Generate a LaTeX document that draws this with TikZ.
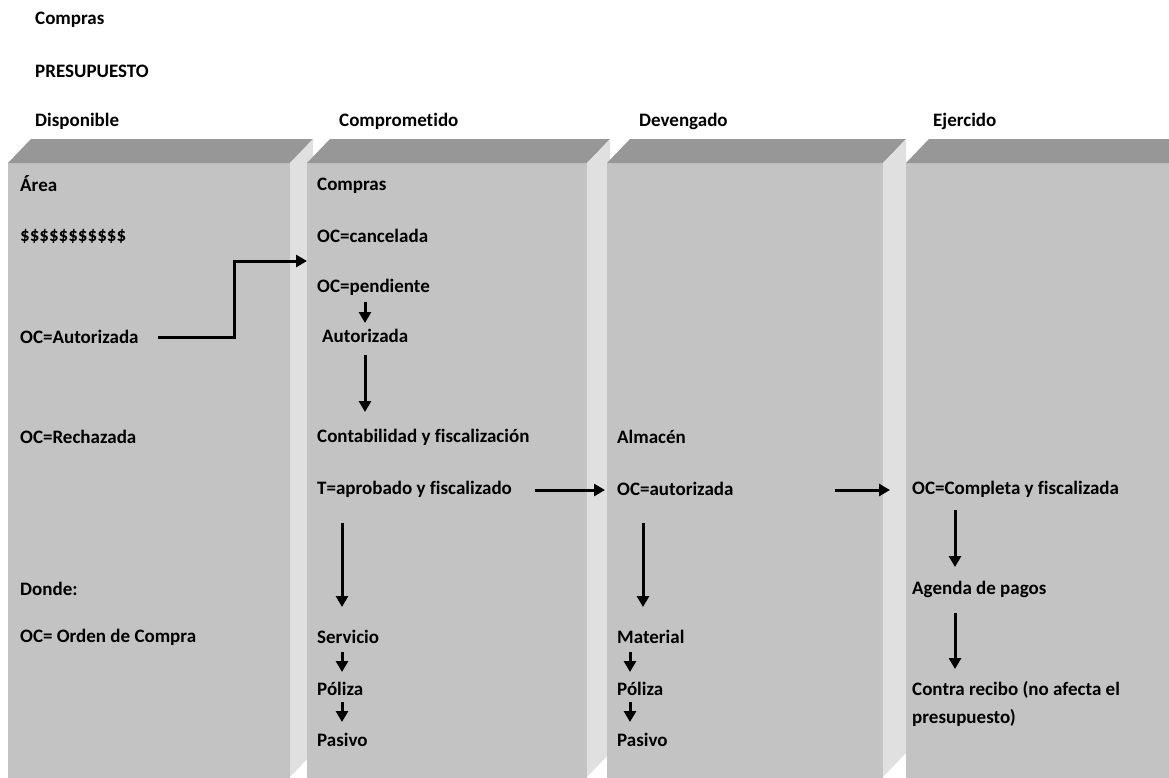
\documentclass[tikz,border=0pt]{standalone}
\usepackage{fontspec}
\setmainfont{Carlito}[RawFeature={-liga}]
\usetikzlibrary{arrows.meta}
\definecolor{topc}{HTML}{979797}
\definecolor{frontc}{HTML}{C3C3C3}
\definecolor{sidec}{HTML}{E0E0E0}
\tikzset{
  lbl/.style={anchor=west, inner sep=0pt, font=\fontsize{19}{28}\selectfont\bfseries, text=black},
  arr/.style={line width=3pt, -{Triangle[length=11pt,width=12pt]}},
}
\newcommand{\colbox}[2]{%
  \fill[frontc] (#1,163) rectangle (#2,800);
  \fill[topc] (#1,163) -- (#1+23,139) -- (#2+23,139) -- (#2,163) -- cycle;
  \fill[sidec] (#2,163) -- (#2+23,139) -- (#2+23,753) -- (#2,777) -- cycle;
}
\begin{document}
\begin{tikzpicture}[x=1pt,y=-1pt]
\useasboundingbox (0,0) rectangle (1169,777);
\fill[white] (0,0) rectangle (1169,777);
\begin{scope}
\clip (0,0) rectangle (1169,777);
\colbox{8}{290}
\colbox{307}{587}
\colbox{607}{883}
\colbox{906}{1200}
\end{scope}

% headers
\node[lbl] (hcompras) at (35,20) {Compras};
\node[lbl] (hpres) at (35,71) {PRESUPUESTO};
\node[lbl] (hdisp) at (35,121) {Disponible};
\node[lbl] (hcomp) at (339,121) {Comprometido};
\node[lbl] (hdev) at (639,121) {Devengado};
\node[lbl] (hejer) at (933,121) {Ejercido};

% column 1
\node[lbl] (area) at (20,184) {Área};
\node[lbl] (dol) at (20,236) {\$\$\$\$\$\$\$\$\$\$\$};
\node[lbl] (oca) at (20,337) {OC=Autorizada};
\node[lbl] (ocr) at (20,437) {OC=Rechazada};
\node[lbl] (donde) at (20,589) {Donde:};
\node[lbl] (ocdef) at (20,637) {OC= Orden de Compra};

% column 2
\node[lbl] (compras) at (317,186) {Compras};
\node[lbl] (occ) at (317,236) {OC=cancelada};
\node[lbl] (pend) at (317,287) {OC=pendiente};
\node[lbl] (aut) at (322,336) {Autorizada};
\node[lbl] (cont) at (317,437) {Contabilidad y fiscalización};
\node[lbl] (tap) at (317,489) {T=aprobado y fiscalizado};
\node[lbl] (serv) at (317,637) {Servicio};
\node[lbl] (pol2) at (317,689) {Póliza};
\node[lbl] (pas2) at (317,740) {Pasivo};

% column 3
\node[lbl] (alm) at (617,437) {Almacén};
\node[lbl] (oca3) at (617,489) {OC=autorizada};
\node[lbl] (mat) at (617,637) {Material};
\node[lbl] (pol3) at (617,689) {Póliza};
\node[lbl] (pas3) at (617,740) {Pasivo};

% column 4
\node[lbl] (ocf) at (912,489) {OC=Completa y fiscalizada};
\node[lbl] (age) at (912,589) {Agenda de pagos};
\node[lbl, align=left] (contra) at (912,704) {Contra recibo (no afecta el\\presupuesto)};

% connectors
\draw[arr] ([xshift=138]oca.west) -- ([xshift=214]oca.west) |- ([shift={(-10,25)}]occ.west);
\draw[arr] ([shift={(48,15)}]pend.west) -- ([shift={(43,-13)}]aut.west);
\draw[arr] ([shift={(43,19)}]aut.west) -- ([shift={(48,-25)}]cont.west);
\draw[arr] ([shift={(218,1)}]tap.west) -- ([shift={(-12,1)}]oca3.west);
\draw[arr] ([shift={(218,1)}]oca3.west) -- ([shift={(-22,1)}]ocf.west);
\draw[arr] ([shift={(25,34)}]tap.west) -- ([shift={(25,-30)}]serv.west);
\draw[arr] ([shift={(25,15)}]serv.west) -- ([shift={(25,-17)}]pol2.west);
\draw[arr] ([shift={(25,13)}]pol2.west) -- ([shift={(25,-18)}]pas2.west);
\draw[arr] ([shift={(26,34)}]oca3.west) -- ([shift={(26,-30)}]mat.west);
\draw[arr] ([shift={(13,15)}]mat.west) -- ([shift={(13,-17)}]pol3.west);
\draw[arr] ([shift={(13,13)}]pol3.west) -- ([shift={(13,-18)}]pas3.west);
\draw[arr] ([shift={(43,21)}]ocf.west) -- ([shift={(43,-22)}]age.west);
\draw[arr] ([shift={(43,24)}]age.west) -- ([shift={(43,-35)}]contra.west);
\end{tikzpicture}
\end{document}
